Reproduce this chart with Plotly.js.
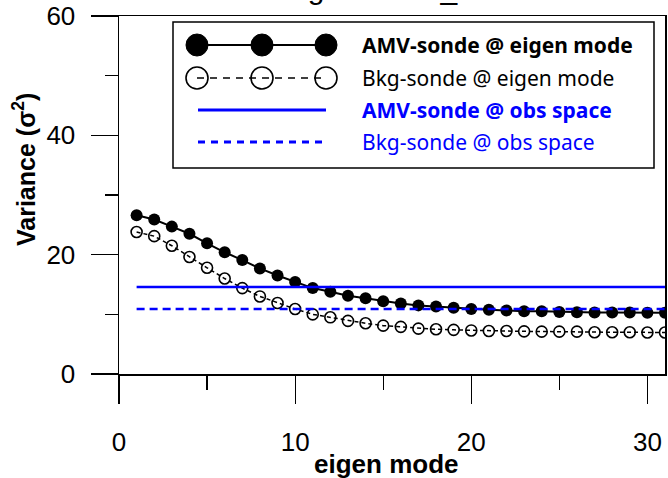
<!DOCTYPE html>
<html>
<head>
<meta charset="utf-8">
<script src="https://cdn.plot.ly/plotly-3.0.1.min.js"></script>
<style>html,body{margin:0;padding:0;background:#fff;}#chart{width:668px;height:478px;}</style>
</head>
<body>
<div id="chart"></div>
<script>
// ---- data ----
const modes = [1,2,3,4,5,6,7,8,9,10,11,12,13,14,15,16,17,18,19,20,21,22,23,24,25,26,27,28,29,30,31];
const amvEigen = [26.6,25.9,24.7,23.5,21.9,20.4,19.1,17.7,16.5,15.4,14.4,13.8,13.1,12.7,12.2,
                  11.8,11.5,11.3,11.1,10.9,10.75,10.65,10.5,10.5,10.4,10.35,10.3,10.3,10.3,10.25,10.25];
const bkgEigen = [23.8,23.1,21.5,19.6,17.8,16.0,14.4,13.0,11.9,10.9,10.0,9.5,8.9,8.5,8.1,
                  7.9,7.6,7.5,7.4,7.3,7.2,7.2,7.15,7.1,7.1,7.1,7.0,7.0,7.0,6.95,6.95];
const amvObs = 14.6;
const bkgObs = 10.9;
const seriesNames = ['AMV-sonde @ eigen mode','Bkg-sonde @ eigen mode','AMV-sonde @ obs space','Bkg-sonde @ obs space'];
const xTicks = [0,10,20,30];
const yTicks = [0,20,40,60];

// ---- layout helpers (pixel -> paper) ----
const L = 119, R = 3, T = 16, B = 104, W = 668, H = 478;
const PW = W - L - R, PH = H - T - B;
const px = p => (p - L) / PW;
const py = p => (T + PH - p) / PH;

const xEnds = [modes[0], modes[modes.length-1]];

const traces = [
  {x: modes, y: bkgEigen, mode: 'lines+markers', name: seriesNames[1],
   line: {color: '#000', width: 1.5, dash: '4px,3px'},
   marker: {symbol: 'circle-open', size: 11, color: '#000', line: {width: 1.6, color: '#000'}}},
  {x: modes, y: amvEigen, mode: 'lines+markers', name: seriesNames[0],
   line: {color: '#000', width: 2},
   marker: {symbol: 'circle', size: 12, color: '#000'}},
  {x: xEnds, y: [amvObs, amvObs], mode: 'lines', name: seriesNames[2],
   line: {color: '#0000ff', width: 2.5}},
  {x: xEnds, y: [bkgObs, bkgObs], mode: 'lines', name: seriesNames[3],
   line: {color: '#0000ff', width: 2.5, dash: '8px,5px'}}
];

// custom legend
const shapes = [];
const annotations = [];
shapes.push({type:'rect', xref:'paper', yref:'paper', x0:px(173), x1:px(654), y0:py(168), y1:py(22),
             line:{color:'#000', width:1.5}, fillcolor:'#fff', layer:'above'});
const rowsY = [45, 78, 110, 142];
const mk = [197, 262, 326];
// row 1
shapes.push({type:'line', xref:'paper', yref:'paper', x0:px(mk[0]), x1:px(mk[2]), y0:py(rowsY[0]), y1:py(rowsY[0]),
             line:{color:'#000', width:2}, layer:'above'});
mk.forEach(c => shapes.push({type:'circle', xref:'paper', yref:'paper', x0:px(c-11), x1:px(c+11),
             y0:py(rowsY[0]+11), y1:py(rowsY[0]-11), fillcolor:'#000', line:{color:'#000', width:1}, layer:'above'}));
// row 2
shapes.push({type:'line', xref:'paper', yref:'paper', x0:px(mk[0]), x1:px(mk[2]), y0:py(rowsY[1]), y1:py(rowsY[1]),
             line:{color:'#000', width:1.5, dash:'7px,6px'}, layer:'above'});
mk.forEach(c => shapes.push({type:'circle', xref:'paper', yref:'paper', x0:px(c-11), x1:px(c+11),
             y0:py(rowsY[1]+11), y1:py(rowsY[1]-11), line:{color:'#000', width:1.6}, layer:'above'}));
// row 3
shapes.push({type:'line', xref:'paper', yref:'paper', x0:px(198), x1:px(326), y0:py(rowsY[2]), y1:py(rowsY[2]),
             line:{color:'#0000ff', width:3}, layer:'above'});
// row 4
shapes.push({type:'line', xref:'paper', yref:'paper', x0:px(198), x1:px(326), y0:py(rowsY[3]), y1:py(rowsY[3]),
             line:{color:'#0000ff', width:3, dash:'7px,6px'}, layer:'above'});

const legFont = '"Noto Sans", "Open Sans", sans-serif';
const legStyles = [
  {color:'#000', b:true}, {color:'#000', b:false}, {color:'#0000ff', b:true}, {color:'#0000ff', b:false}
];
seriesNames.forEach((n, i) => {
  annotations.push({xref:'paper', yref:'paper', x:px(360), y:py(rowsY[i]), xanchor:'left', yanchor:'middle',
    text: legStyles[i].b ? '<b>'+n+'</b>' : n, showarrow:false,
    font:{family:legFont, size:21, color:legStyles[i].color}});
});

const arial = '"Liberation Sans", Arial, sans-serif';
// axis titles
annotations.push({xref:'paper', yref:'paper', x:px(386), y:py(464), xanchor:'center', yanchor:'middle',
  text:'<b>eigen mode</b>', showarrow:false, font:{family:arial, size:26, color:'#000'}});
annotations.push({xref:'paper', yref:'paper', x:px(24), y:py(170), xanchor:'center', yanchor:'middle', textangle:-90,
  text:'<b>Variance (σ<sup>2</sup>)</b>', showarrow:false, font:{family:arial, size:25, color:'#000'}});
// chart title (mostly above the canvas)
annotations.push({xref:'paper', yref:'paper', x:px(401), y:1, yshift:9, xanchor:'center', yanchor:'bottom',
  text:'Eigen Value_AMV', showarrow:false, font:{family:arial, size:30, color:'#000'}});

const axisFont = {family:arial, size:26, color:'#000'};
const layout = {
  width: W, height: H,
  margin: {l: L, r: R, t: T, b: B, pad: 0},
  paper_bgcolor: '#fff', plot_bgcolor: '#fff',
  showlegend: false,
  xaxis: {range: [0, 31], tickvals: xTicks, ticktext: xTicks.map(String), ticks: 'outside', ticklen: 28, tickwidth: 1.2,
          tickcolor: '#000', showline: true, mirror: true, linecolor: '#000', linewidth: 1.5, showgrid: false, zeroline: false,
          tickfont: axisFont, ticklabelstandoff: 16,
          minor: {dtick: 5, tick0: 0, ticks: 'outside', ticklen: 14, tickwidth: 1.2, tickcolor: '#000', showgrid: false}},
  yaxis: {range: [0, 60], tickvals: yTicks, ticktext: yTicks.map(String), ticks: 'outside', ticklen: 27, tickwidth: 1.2,
          tickcolor: '#000', showline: true, mirror: true, linecolor: '#000', linewidth: 1.5, showgrid: false, zeroline: false,
          tickfont: axisFont, ticklabelstandoff: 10,
          minor: {dtick: 10, tick0: 0, ticks: 'outside', ticklen: 13, tickwidth: 1.2, tickcolor: '#000', showgrid: false}},
  shapes: shapes,
  annotations: annotations
};

Plotly.newPlot('chart', traces, layout, {displayModeBar: false, staticPlot: true});
</script>
</body>
</html>
